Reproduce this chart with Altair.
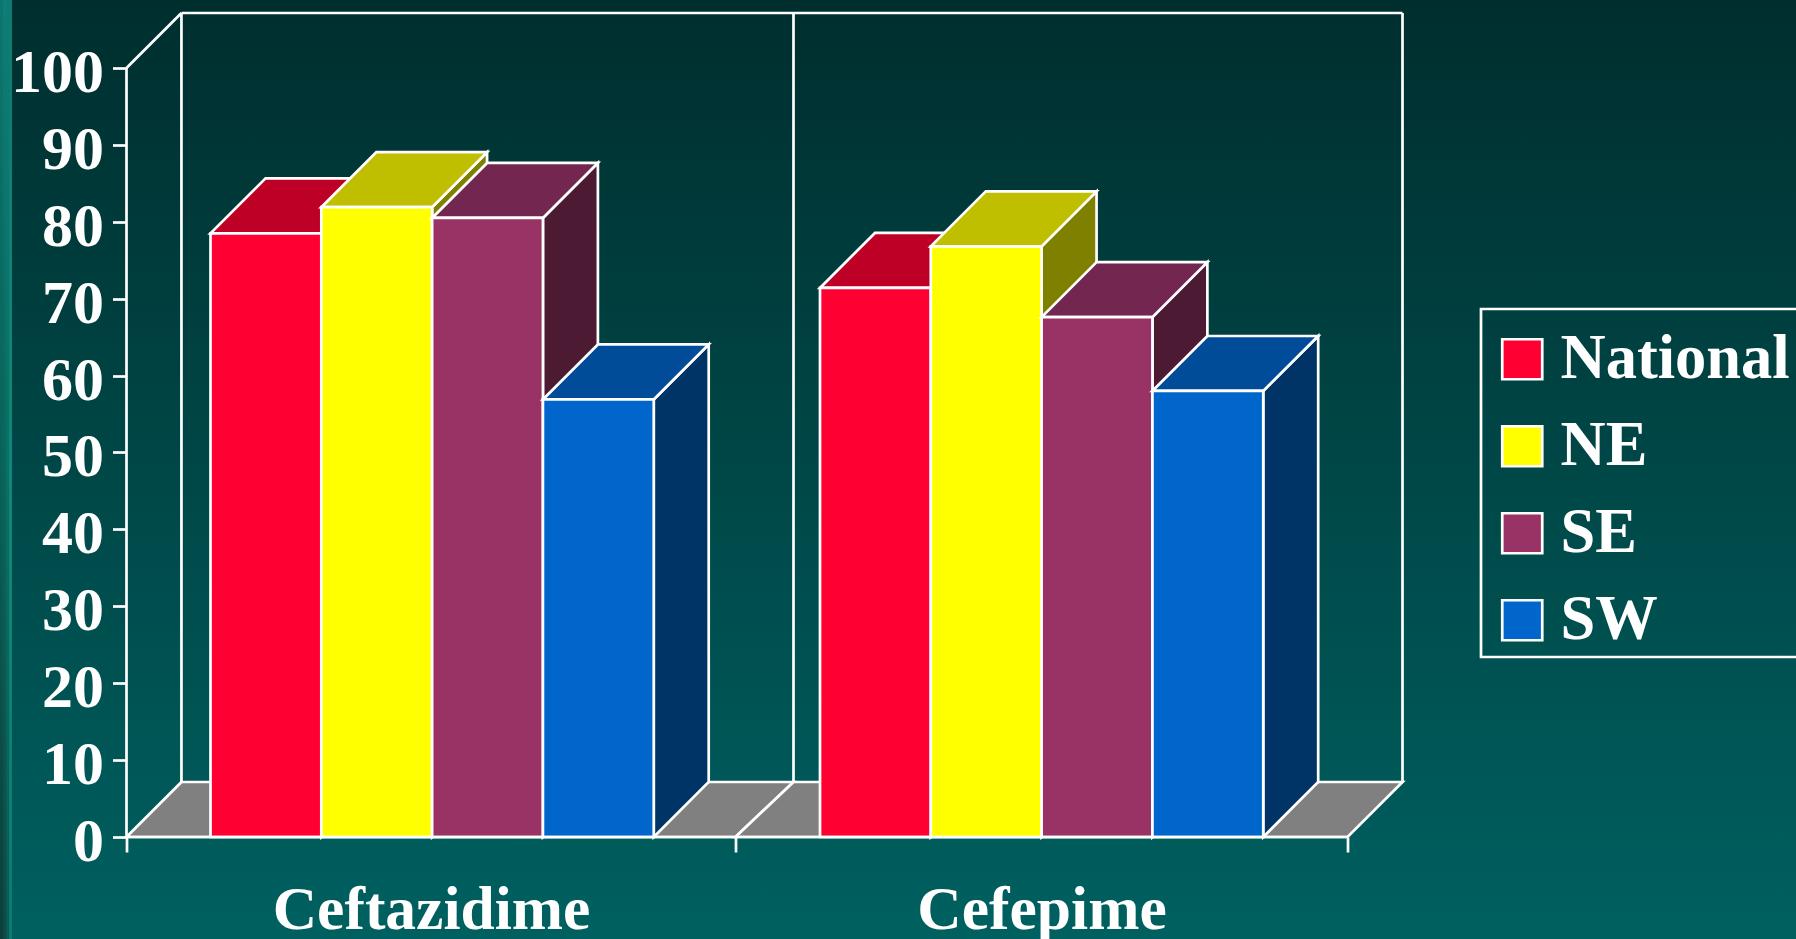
import altair as alt
import pandas as pd

# Chart values
drugs = ["Ceftazidime", "Cefepime"]
regions = ["National", "NE", "SE", "SW"]
ceftazidime = [78.5, 81.9, 80.5, 56.9]
cefepime = [71.4, 76.8, 67.6, 58.0]

front_colors = ["#FF0033", "#FFFF00", "#993366", "#0066CC"]
top_colors = ["#BF0026", "#BFBF00", "#732650", "#004C99"]
side_colors = ["#800019", "#808000", "#4D1A33", "#003366"]

# Scale geometry, in data units
y_ticks = list(range(0, 101, 10))
depth_y = 7.15
depth_x = 0.09
bar_width = 0.1815
group_starts = [0.1376, 1.1359]
mid_tick = 0.9975
mid_wall = 1.0925
x_end = 2.0
y_end = 100.0
LW = 2.7

x_scale = alt.Scale(domain=[0, x_end + depth_x], nice=False, zero=False)
y_scale = alt.Scale(domain=[0, y_end + depth_y], nice=False, zero=False)

label_mid = [mid_tick / 2, (mid_tick + x_end) / 2]
x_axis = alt.Axis(
    values=[0, label_mid[0], mid_tick, label_mid[1], x_end],
    domain=False, zindex=1,
    grid=False, title=None, tickColor="white", tickWidth=LW, tickSize=15,
    tickOpacity={"condition": {"test": f"datum.value === {label_mid[0]} || datum.value === {label_mid[1]}",
                               "value": 0}, "value": 1},
    labelExpr=f"datum.value === {label_mid[0]} ? '{drugs[0]}' : datum.value === {label_mid[1]} ? '{drugs[1]}' : ''",
    labelFont="Liberation Serif", labelFontWeight="bold", labelFontSize=61.5, labelLimit=600,
    labelColor="white", labelPadding=76, labelBaseline="alphabetic", labelFlush=False,
    labelOverlap=False, labelAngle=0)
y_axis = alt.Axis(
    values=y_ticks, domain=False, grid=False, title=None, tickColor="white", zindex=1,
    tickWidth=LW, tickSize=14, labelFont="Liberation Serif", labelFontWeight="bold",
    labelFontSize=62, labelColor="white", labelPadding=9, labelOverlap=False,
    labelFlush=False, labelBaseline="middle", labelOffset=4.5)

X = lambda f: alt.X(f, type="quantitative", scale=x_scale, axis=x_axis)
Y = lambda f: alt.Y(f, type="quantitative", scale=y_scale, axis=y_axis)
WHITE = {"stroke": "white", "strokeWidth": LW, "strokeJoin": "miter"}
ONE = pd.DataFrame({"a": [0]})


def area_v(points, fill):
    """Face with vertical sides: (x, bottom, top) rows."""
    df = pd.DataFrame(points, columns=["x", "y", "y2"])
    return alt.Chart(df).mark_area(fill=fill, orient="vertical", **WHITE).encode(
        x=X("x"), y=Y("y"), y2="y2")


def area_h(points, fill):
    """Face with horizontal sides: (y, left, right) rows."""
    df = pd.DataFrame(points, columns=["y", "x", "x2"])
    return alt.Chart(df).mark_area(fill=fill, orient="horizontal", **WHITE).encode(
        y=Y("y"), x=X("x"), x2="x2")


def line(points):
    df = pd.DataFrame(points, columns=["x", "y"])
    return alt.Chart(df).mark_line(color="white", strokeWidth=LW).encode(x=X("x"), y=Y("y"))


def gradient(stops):
    step = 1 / (len(stops) - 1)
    return alt.Gradient(gradient="linear", x1=0, y1=0, x2=0, y2=1,
                        stops=[alt.GradientStop(color=c, offset=i * step) for i, c in enumerate(stops)])


# Full-canvas gradient behind everything (pixel offsets from the plot origin)
canvas_left, canvas_top = -126.5, -13
background = alt.Chart(ONE).mark_rect(fill=gradient(["#002E2E", "#006060"])).encode(
    x=alt.value(canvas_left), x2=alt.value(canvas_left + 1796),
    y=alt.value(canvas_top), y2=alt.value(canvas_top + 939))
layers = [background]

# Left-edge band, built from narrow columns that darken toward the bottom
band_columns = [
    ["#0C7670", "#086258", "#0E3D3A"],
    ["#0E7E76", "#09665C", "#0B4A46"],
    ["#0E7C74", "#0A6F64", "#0A5A54"],
    ["#0F7A72", "#12867A", "#0E7A6E"],
]
for i, stops in enumerate(band_columns):
    layers.append(alt.Chart(ONE).mark_rect(fill=gradient(stops)).encode(
        x=alt.value(canvas_left + 3 * i), x2=alt.value(canvas_left + 3 * i + 3),
        y=alt.value(canvas_top), y2=alt.value(canvas_top + 939)))

# Back walls and floor panels
floor_edges = [(0.0, mid_tick, depth_x, mid_wall), (mid_tick, x_end, mid_wall, x_end + depth_x)]
for a, b, c, d in floor_edges:
    layers.append(area_h([(0, a, b), (depth_y, c, d)], "#808080"))
layers.append(line([(depth_x, y_end + depth_y), (x_end + depth_x, y_end + depth_y)]))
for wall_x in [depth_x, mid_wall, x_end + depth_x]:
    layers.append(line([(wall_x, depth_y), (wall_x, y_end + depth_y)]))
layers.append(line([(0, y_end), (depth_x, y_end + depth_y)]))
layers.append(line([(0, 0), (0, y_end)]))

# Boxes, drawn left to right so that each one overlaps the one before
for g, values in enumerate([ceftazidime, cefepime]):
    for i, v in enumerate(values):
        left = group_starts[g] + i * bar_width
        right = left + bar_width
        layers.append(area_v([(right, 0, v), (right + depth_x, depth_y, v + depth_y)], side_colors[i]))
        layers.append(area_h([(v, left, right), (v + depth_y, left + depth_x, right + depth_x)], top_colors[i]))
        front = pd.DataFrame({"x": [left], "x2": [right], "y": [v], "y2": [0], "region": [regions[i]]})
        layers.append(alt.Chart(front).mark_rect(**WHITE).encode(
            x=X("x"), x2="x2", y=Y("y"), y2="y2",
            color=alt.Color("region:N",
                            scale=alt.Scale(domain=regions, range=front_colors),
                            legend=alt.Legend(
                                orient="none", legendX=1364.5, legendY=315,
                                title=None, symbolType="square", symbolSize=1600,
                                symbolStrokeColor="white", symbolStrokeWidth=LW,
                                symbolOpacity=1,
                                labelFont="Liberation Serif", labelFontWeight="bold",
                                labelFontSize=62.5, labelColor="white", labelOffset=7,
                                labelLimit=400, rowPadding=24, padding=0,
                                values=regions,
                            ))))

# Baseline in front of the boxes
layers.append(line([(0, 0), (x_end, 0)]))

# Frame around the legend; it runs off the right edge of the canvas
layers.append(alt.Chart(ONE).mark_rect(fill="transparent", stroke="white", strokeWidth=LW).encode(
    x=alt.value(1481 + canvas_left), x2=alt.value(1830 + canvas_left),
    y=alt.value(309 + canvas_top), y2=alt.value(657 + canvas_top)))

chart = alt.layer(*layers).properties(
    width=1276, height=824,
    padding={"left": 126.5, "top": 13, "right": 393.5, "bottom": 102},
    autosize=alt.AutoSizeParams(type="none"),
).configure_view(stroke=None)

chart.save("out.html", embed_options={"renderer": "svg", "actions": False})
